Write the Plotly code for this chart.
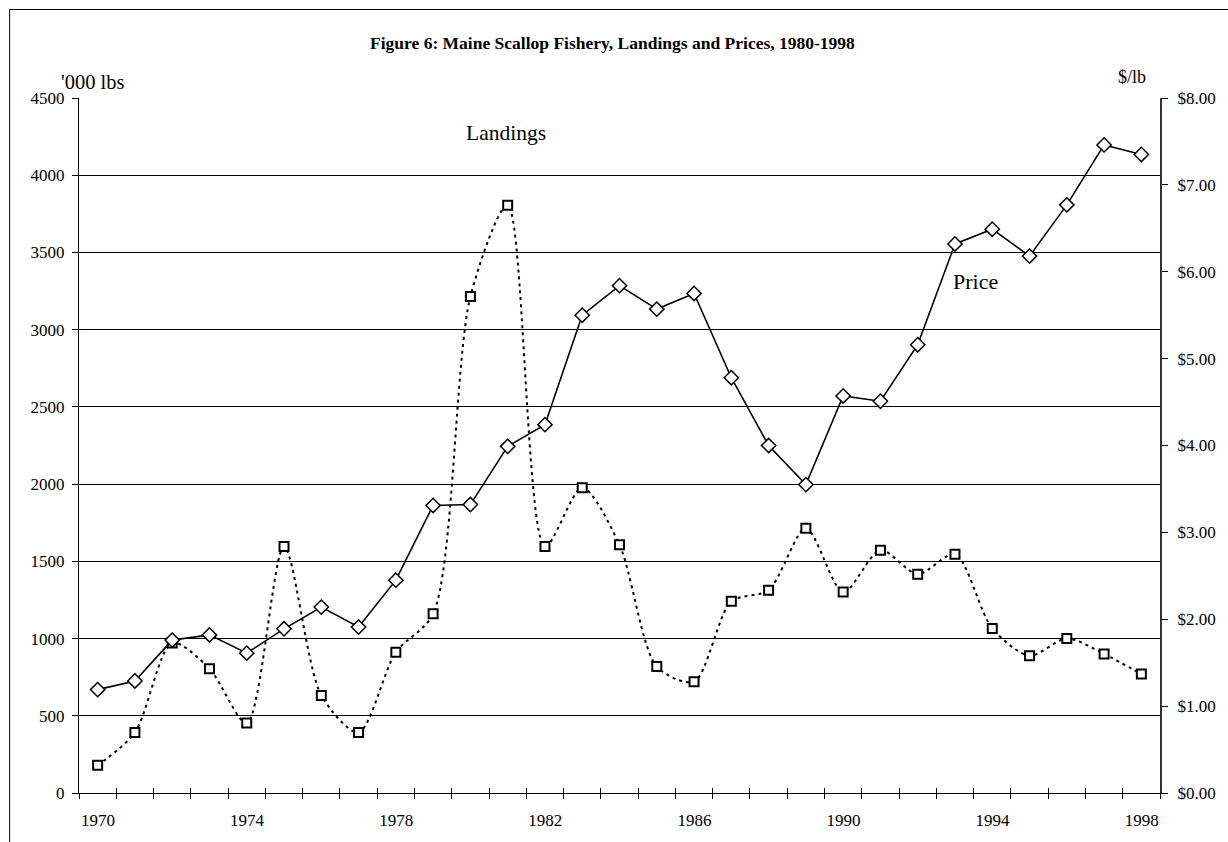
import plotly.graph_objects as go

years = list(range(1970, 1999))
landings = [179, 392, 972, 805, 453, 1596, 632, 392, 912, 1160,
            3214, 3806, 1596, 1976, 1607, 819, 721, 1241, 1313, 1714,
            1301, 1572, 1417, 1546, 1065, 889, 1001, 900, 770]
price = [1.19, 1.29, 1.76, 1.82, 1.61, 1.89, 2.14, 1.91, 2.45, 3.31,
         3.32, 3.99, 4.24, 5.50, 5.84, 5.57, 5.75, 4.78, 4.00, 3.55,
         4.57, 4.51, 5.16, 6.32, 6.49, 6.18, 6.77, 7.46, 7.35]
label_years = [1970, 1974, 1978, 1982, 1986, 1990, 1994, 1998]
left_ticks = list(range(0, 5000, 500))
right_ticks = [0, 1, 2, 3, 4, 5, 6, 7, 8]
right_text = ["$%.2f" % v for v in right_ticks]

title_text = "Figure 6: Maine Scallop Fishery, Landings and Prices, 1980-1998"

W, H = 1228, 842
ML, MR, MT, MB = 79, 66, 98, 49
PW = W - ML - MR
PH = H - MT - MB

FONT = "Liberation Serif, Times New Roman, serif"

boundaries = [y - 0.5 for y in years] + [years[-1] + 0.5]
btext = [str(int(b + 0.5)) if int(b + 0.5) in label_years else "" for b in boundaries]
half_cat = int(round(PW / len(years) / 2))

fig = go.Figure()
fig.add_trace(go.Scatter(
    x=years, y=landings, name="Landings", mode="lines+markers",
    line=dict(color="black", width=2, dash="3px,4px", shape="spline", smoothing=0.8),
    marker=dict(symbol="square", size=9, color="white", line=dict(color="black", width=2)),
    xaxis="x", yaxis="y", showlegend=False,
))
fig.add_trace(go.Scatter(
    x=years, y=price, name="Price", mode="lines+markers",
    line=dict(color="black", width=1.6),
    marker=dict(symbol="diamond", size=11, color="white", line=dict(color="black", width=1.5)),
    xaxis="x2", yaxis="y2", showlegend=False,
))

def px2paper_x(px):
    return (px - ML) / PW

def px2paper_y(py):
    return (H - MB - py) / PH

fig.update_layout(
    width=W, height=H,
    margin=dict(l=ML, r=MR, t=MT, b=MB),
    paper_bgcolor="white", plot_bgcolor="white",
    font=dict(family=FONT, color="black", size=17),
    xaxis=dict(
        range=[years[0] - 0.5, years[-1] + 0.5],
        tickmode="array", tickvals=boundaries, ticktext=btext,
        ticks="outside", ticklen=5, tickcolor="black", tickwidth=1,
        ticklabelshift=half_cat, ticklabelstandoff=7,
        showgrid=False, zeroline=False,
        showline=True, linecolor="black", linewidth=1,
        tickfont=dict(size=17),
    ),
    xaxis2=dict(
        range=[years[0] - 0.5, years[-1] + 0.5], overlaying="x", anchor="y2", side="bottom",
        tickmode="array", tickvals=boundaries, showticklabels=False,
        ticks="inside", ticklen=5, tickcolor="black", tickwidth=1,
        showgrid=False, zeroline=False, showline=False,
    ),
    yaxis=dict(
        range=[0, 4500], tickmode="array", tickvals=left_ticks,
        ticks="outside", ticklen=6, tickcolor="black", ticklabelstandoff=4,
        showgrid=True, gridcolor="black", gridwidth=1,
        zeroline=False, showline=True, linecolor="black", linewidth=1,
        tickfont=dict(size=17),
    ),
    yaxis2=dict(
        range=[0, 8], overlaying="y", side="right", anchor="x",
        tickmode="array", tickvals=right_ticks, ticktext=right_text,
        ticks="outside", ticklen=6, tickcolor="black", ticklabelstandoff=6,
        showgrid=False, zeroline=False,
        showline=True, linecolor="#333333", linewidth=2,
        tickfont=dict(size=17),
    ),
    annotations=[
        dict(text="<b>%s</b>" % title_text, xref="paper", yref="paper",
             x=px2paper_x(613), y=px2paper_y(43), showarrow=False,
             font=dict(size=17.5, family=FONT), xanchor="center", yanchor="middle"),
        dict(text="'000 lbs", xref="paper", yref="paper",
             x=px2paper_x(59), y=px2paper_y(82), showarrow=False,
             font=dict(size=20.5, family=FONT), xanchor="left", yanchor="middle"),
        dict(text="$/lb", xref="paper", yref="paper",
             x=px2paper_x(1134), y=px2paper_y(77), showarrow=False,
             font=dict(size=18, family=FONT), xanchor="center", yanchor="middle"),
        dict(text="Landings", xref="paper", yref="paper",
             x=px2paper_x(507), y=px2paper_y(133), showarrow=False,
             font=dict(size=21.5, family=FONT), xanchor="center", yanchor="middle"),
        dict(text="Price", xref="paper", yref="paper",
             x=px2paper_x(977), y=px2paper_y(281), showarrow=False,
             font=dict(size=22, family=FONT), xanchor="center", yanchor="middle"),
    ],
    shapes=[
        dict(type="rect", xref="paper", yref="paper",
             x0=px2paper_x(9.5), x1=px2paper_x(W + 20),
             y0=px2paper_y(H + 20), y1=px2paper_y(9.5),
             line=dict(color="black", width=1), fillcolor="rgba(0,0,0,0)", layer="above"),
    ],
)

fig.write_html("out.html")
